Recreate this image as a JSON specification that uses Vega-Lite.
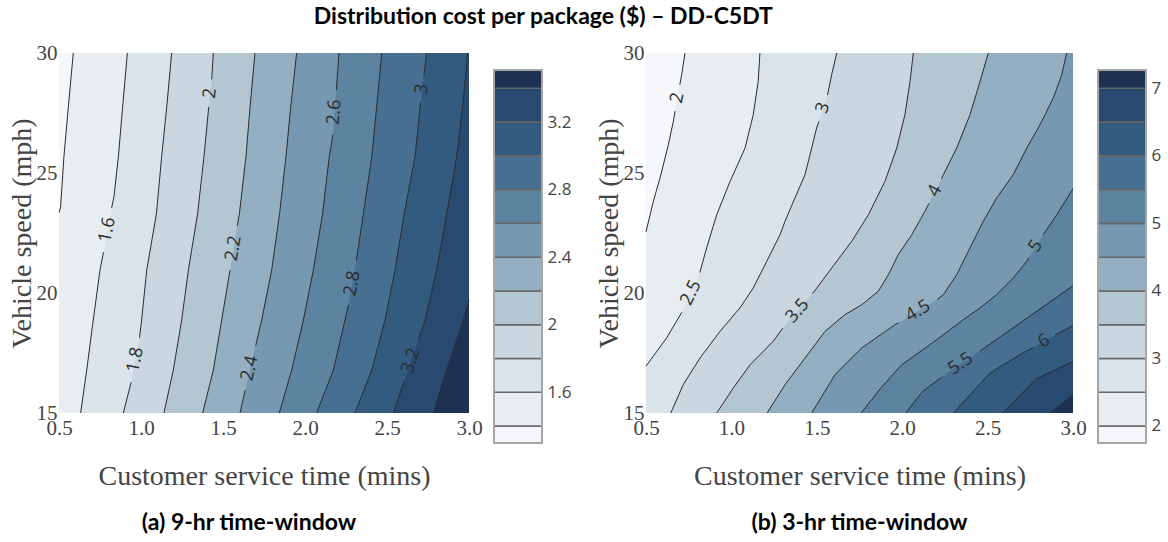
{
  "$schema": "https://vega.github.io/schema/vega-lite/v6.json",
  "background": "white",
  "padding": {"left": 8, "top": 6, "right": 4, "bottom": 4},
  "title": {"text": "Distribution cost per package ($) – DD-C5DT", "font": "Lato", "fontSize": 23, "fontWeight": "bold", "color": "#000000", "anchor": "middle", "frame": "bounds", "dx": -41, "offset": 13},
  "config": {
    "view": {"stroke": null},
    "axis": {"grid": false, "ticks": false, "domain": false, "labelFlush": false, "labelOverlap": false}
  },
  "datasets": {
    "ca": [
      {"lv": 1.4, "s": 1, "x": 0.587, "y": 30}, {"lv": 1.4, "s": 1, "x": 0.557, "y": 27.76}, {"lv": 1.4, "s": 1, "x": 0.53, "y": 25.68}, {"lv": 1.4, "s": 1, "x": 0.51, "y": 23.6}, {"lv": 1.4, "s": 1, "x": 0.5, "y": 23.35}, {"lv": 1.4, "s": 0, "x": 0.5, "y": 15},
      {"lv": 1.6, "s": 1, "x": 0.917, "y": 30}, {"lv": 1.6, "s": 1, "x": 0.888, "y": 27.76}, {"lv": 1.6, "s": 1, "x": 0.862, "y": 25.68}, {"lv": 1.6, "s": 1, "x": 0.835, "y": 24.01}, {"lv": 1.6, "s": 1, "x": 0.821, "y": 23.55},
      {"lv": 1.6, "s": 2, "x": 0.771, "y": 21.7}, {"lv": 1.6, "s": 2, "x": 0.75, "y": 20.96}, {"lv": 1.6, "s": 2, "x": 0.709, "y": 18.875}, {"lv": 1.6, "s": 2, "x": 0.669, "y": 16.79}, {"lv": 1.6, "s": 2, "x": 0.632, "y": 15},
      {"lv": 1.8, "s": 1, "x": 1.187, "y": 30}, {"lv": 1.8, "s": 1, "x": 1.157, "y": 27.76}, {"lv": 1.8, "s": 1, "x": 1.126, "y": 25.68}, {"lv": 1.8, "s": 1, "x": 1.094, "y": 23.3}, {"lv": 1.8, "s": 1, "x": 1.035, "y": 20.96}, {"lv": 1.8, "s": 1, "x": 1.004, "y": 18.875}, {"lv": 1.8, "s": 1, "x": 0.991, "y": 18.14},
      {"lv": 1.8, "s": 2, "x": 0.94, "y": 16.28}, {"lv": 1.8, "s": 2, "x": 0.892, "y": 15},
      {"lv": 2, "s": 1, "x": 1.441, "y": 30}, {"lv": 2, "s": 1, "x": 1.431, "y": 28.9},
      {"lv": 2, "s": 2, "x": 1.413, "y": 27.75}, {"lv": 2, "s": 2, "x": 1.384, "y": 25.68}, {"lv": 2, "s": 2, "x": 1.345, "y": 23.3}, {"lv": 2, "s": 2, "x": 1.289, "y": 20.96}, {"lv": 2, "s": 2, "x": 1.248, "y": 18.875}, {"lv": 2, "s": 2, "x": 1.197, "y": 16.79}, {"lv": 2, "s": 2, "x": 1.14, "y": 15},
      {"lv": 2.2, "s": 1, "x": 1.695, "y": 30}, {"lv": 2.2, "s": 1, "x": 1.665, "y": 27.76}, {"lv": 2.2, "s": 1, "x": 1.64, "y": 25.68}, {"lv": 2.2, "s": 1, "x": 1.6, "y": 23.3}, {"lv": 2.2, "s": 1, "x": 1.587, "y": 22.8},
      {"lv": 2.2, "s": 2, "x": 1.543, "y": 20.95}, {"lv": 2.2, "s": 2, "x": 1.492, "y": 18.875}, {"lv": 2.2, "s": 2, "x": 1.441, "y": 16.79}, {"lv": 2.2, "s": 2, "x": 1.376, "y": 15},
      {"lv": 2.4, "s": 1, "x": 1.949, "y": 30}, {"lv": 2.4, "s": 1, "x": 1.913, "y": 27.76}, {"lv": 2.4, "s": 1, "x": 1.884, "y": 25.68}, {"lv": 2.4, "s": 1, "x": 1.845, "y": 23.3}, {"lv": 2.4, "s": 1, "x": 1.797, "y": 20.96}, {"lv": 2.4, "s": 1, "x": 1.736, "y": 18.875}, {"lv": 2.4, "s": 1, "x": 1.699, "y": 17.8},
      {"lv": 2.4, "s": 2, "x": 1.635, "y": 15.95}, {"lv": 2.4, "s": 2, "x": 1.604, "y": 15},
      {"lv": 2.6, "s": 1, "x": 2.207, "y": 30}, {"lv": 2.6, "s": 1, "x": 2.191, "y": 28.45},
      {"lv": 2.6, "s": 2, "x": 2.17, "y": 26.6}, {"lv": 2.6, "s": 2, "x": 2.148, "y": 25.68}, {"lv": 2.6, "s": 2, "x": 2.107, "y": 23.3}, {"lv": 2.6, "s": 2, "x": 2.051, "y": 20.96}, {"lv": 2.6, "s": 2, "x": 1.99, "y": 18.875}, {"lv": 2.6, "s": 2, "x": 1.919, "y": 16.79}, {"lv": 2.6, "s": 2, "x": 1.843, "y": 15},
      {"lv": 2.8, "s": 1, "x": 2.468, "y": 30}, {"lv": 2.8, "s": 1, "x": 2.437, "y": 27.76}, {"lv": 2.8, "s": 1, "x": 2.407, "y": 25.68}, {"lv": 2.8, "s": 1, "x": 2.356, "y": 23.3}, {"lv": 2.8, "s": 1, "x": 2.313, "y": 21.35},
      {"lv": 2.8, "s": 2, "x": 2.265, "y": 19.5}, {"lv": 2.8, "s": 2, "x": 2.244, "y": 18.875}, {"lv": 2.8, "s": 2, "x": 2.173, "y": 16.79}, {"lv": 2.8, "s": 2, "x": 2.071, "y": 15},
      {"lv": 3, "s": 1, "x": 2.742, "y": 30}, {"lv": 3, "s": 1, "x": 2.725, "y": 29.05},
      {"lv": 3, "s": 2, "x": 2.705, "y": 27.95}, {"lv": 3, "s": 2, "x": 2.671, "y": 25.68}, {"lv": 3, "s": 2, "x": 2.605, "y": 23.3}, {"lv": 3, "s": 2, "x": 2.549, "y": 20.96}, {"lv": 3, "s": 2, "x": 2.488, "y": 18.875}, {"lv": 3, "s": 2, "x": 2.407, "y": 16.79}, {"lv": 3, "s": 2, "x": 2.305, "y": 15},
      {"lv": 3.2, "s": 1, "x": 2.992, "y": 30}, {"lv": 3.2, "s": 1, "x": 2.961, "y": 27.76}, {"lv": 3.2, "s": 1, "x": 2.925, "y": 25.68}, {"lv": 3.2, "s": 1, "x": 2.864, "y": 23.3}, {"lv": 3.2, "s": 1, "x": 2.803, "y": 20.96}, {"lv": 3.2, "s": 1, "x": 2.732, "y": 18.875}, {"lv": 3.2, "s": 1, "x": 2.69, "y": 18.02},
      {"lv": 3.2, "s": 2, "x": 2.605, "y": 16.32}, {"lv": 3.2, "s": 2, "x": 2.539, "y": 15},
      {"lv": 3.4, "s": 1, "x": 3, "y": 19.71}, {"lv": 3.4, "s": 1, "x": 2.965, "y": 18.875}, {"lv": 3.4, "s": 1, "x": 2.864, "y": 16.79}, {"lv": 3.4, "s": 1, "x": 2.783, "y": 15}
    ],
    "la": [
      {"t": "1.6", "x": 0.796, "y": 22.63}, {"t": "1.8", "x": 0.967, "y": 17.21}, {"t": "2", "x": 1.422, "y": 28.32},
      {"t": "2.2", "x": 1.565, "y": 21.86}, {"t": "2.4", "x": 1.665, "y": 16.86}, {"t": "2.6", "x": 2.181, "y": 27.53},
      {"t": "2.8", "x": 2.29, "y": 20.4}, {"t": "3", "x": 2.715, "y": 28.5}, {"t": "3.2", "x": 2.648, "y": 17.17}
    ],
    "cb": [
      {"lv": 2, "s": 1, "x": 0.728, "y": 30}, {"lv": 2, "s": 1, "x": 0.709, "y": 29.1}, {"lv": 2, "s": 1, "x": 0.698, "y": 28.68},
      {"lv": 2, "s": 2, "x": 0.67, "y": 27.58}, {"lv": 2, "s": 2, "x": 0.66, "y": 27.15}, {"lv": 2, "s": 2, "x": 0.631, "y": 26.18}, {"lv": 2, "s": 2, "x": 0.582, "y": 24.79}, {"lv": 2, "s": 2, "x": 0.543, "y": 23.82}, {"lv": 2, "s": 2, "x": 0.5, "y": 22.55}, {"lv": 2, "s": 0, "x": 0.5, "y": 15},
      {"lv": 2.5, "s": 1, "x": 1.167, "y": 30}, {"lv": 2.5, "s": 1, "x": 1.157, "y": 28.82}, {"lv": 2.5, "s": 1, "x": 1.128, "y": 27.43}, {"lv": 2.5, "s": 1, "x": 1.08, "y": 26.04}, {"lv": 2.5, "s": 1, "x": 0.992, "y": 24.65}, {"lv": 2.5, "s": 1, "x": 0.914, "y": 23.26}, {"lv": 2.5, "s": 1, "x": 0.855, "y": 21.88}, {"lv": 2.5, "s": 1, "x": 0.815, "y": 20.85},
      {"lv": 2.5, "s": 2, "x": 0.71, "y": 19.2}, {"lv": 2.5, "s": 2, "x": 0.621, "y": 18.13}, {"lv": 2.5, "s": 2, "x": 0.5, "y": 16.95}, {"lv": 2.5, "s": 0, "x": 0.5, "y": 15},
      {"lv": 3, "s": 1, "x": 1.617, "y": 30}, {"lv": 3, "s": 1, "x": 1.587, "y": 29.1}, {"lv": 3, "s": 1, "x": 1.563, "y": 28.25},
      {"lv": 3, "s": 2, "x": 1.513, "y": 27.15}, {"lv": 3, "s": 2, "x": 1.499, "y": 26.88}, {"lv": 3, "s": 2, "x": 1.47, "y": 26.04}, {"lv": 3, "s": 2, "x": 1.431, "y": 24.93}, {"lv": 3, "s": 2, "x": 1.372, "y": 23.96}, {"lv": 3, "s": 2, "x": 1.314, "y": 22.99}, {"lv": 3, "s": 2, "x": 1.285, "y": 22.43}, {"lv": 3, "s": 2, "x": 1.207, "y": 21.32}, {"lv": 3, "s": 2, "x": 1.128, "y": 20.21}, {"lv": 3, "s": 2, "x": 1.05, "y": 19.38}, {"lv": 3, "s": 2, "x": 0.933, "y": 18.4}, {"lv": 3, "s": 2, "x": 0.816, "y": 17.29}, {"lv": 3, "s": 2, "x": 0.718, "y": 16.18}, {"lv": 3, "s": 2, "x": 0.645, "y": 15},
      {"lv": 3.5, "s": 1, "x": 2.065, "y": 30}, {"lv": 3.5, "s": 1, "x": 2.046, "y": 28.82}, {"lv": 3.5, "s": 1, "x": 2.016, "y": 27.43}, {"lv": 3.5, "s": 1, "x": 1.968, "y": 26.04}, {"lv": 3.5, "s": 1, "x": 1.899, "y": 24.65}, {"lv": 3.5, "s": 1, "x": 1.802, "y": 23.26}, {"lv": 3.5, "s": 1, "x": 1.704, "y": 22.15}, {"lv": 3.5, "s": 1, "x": 1.587, "y": 21.04}, {"lv": 3.5, "s": 1, "x": 1.475, "y": 19.97},
      {"lv": 3.5, "s": 2, "x": 1.3, "y": 18.53}, {"lv": 3.5, "s": 2, "x": 1.245, "y": 17.99}, {"lv": 3.5, "s": 2, "x": 1.109, "y": 17.01}, {"lv": 3.5, "s": 2, "x": 1.011, "y": 16.04}, {"lv": 3.5, "s": 2, "x": 0.914, "y": 15},
      {"lv": 4, "s": 1, "x": 2.504, "y": 30}, {"lv": 4, "s": 1, "x": 2.456, "y": 28.82}, {"lv": 4, "s": 1, "x": 2.397, "y": 27.43}, {"lv": 4, "s": 1, "x": 2.319, "y": 26.04}, {"lv": 4, "s": 1, "x": 2.241, "y": 24.93}, {"lv": 4, "s": 1, "x": 2.229, "y": 24.76},
      {"lv": 4, "s": 2, "x": 2.157, "y": 23.74}, {"lv": 4, "s": 2, "x": 2.133, "y": 23.4}, {"lv": 4, "s": 2, "x": 2.056, "y": 22.43}, {"lv": 4, "s": 2, "x": 1.977, "y": 21.6}, {"lv": 4, "s": 2, "x": 1.919, "y": 20.76}, {"lv": 4, "s": 2, "x": 1.86, "y": 20.07}, {"lv": 4, "s": 2, "x": 1.763, "y": 19.51}, {"lv": 4, "s": 2, "x": 1.665, "y": 19.1}, {"lv": 4, "s": 2, "x": 1.548, "y": 18.4}, {"lv": 4, "s": 2, "x": 1.431, "y": 17.29}, {"lv": 4, "s": 2, "x": 1.314, "y": 16.18}, {"lv": 4, "s": 2, "x": 1.209, "y": 15},
      {"lv": 4.5, "s": 1, "x": 2.963, "y": 30}, {"lv": 4.5, "s": 1, "x": 2.934, "y": 29.1}, {"lv": 4.5, "s": 1, "x": 2.885, "y": 28.13}, {"lv": 4.5, "s": 1, "x": 2.807, "y": 27.01}, {"lv": 4.5, "s": 1, "x": 2.729, "y": 26.04}, {"lv": 4.5, "s": 1, "x": 2.65, "y": 24.93}, {"lv": 4.5, "s": 1, "x": 2.553, "y": 23.96}, {"lv": 4.5, "s": 1, "x": 2.475, "y": 22.99}, {"lv": 4.5, "s": 1, "x": 2.397, "y": 21.88}, {"lv": 4.5, "s": 1, "x": 2.319, "y": 20.76}, {"lv": 4.5, "s": 1, "x": 2.241, "y": 19.93}, {"lv": 4.5, "s": 1, "x": 2.205, "y": 19.73},
      {"lv": 4.5, "s": 2, "x": 1.98, "y": 18.76}, {"lv": 4.5, "s": 2, "x": 1.958, "y": 18.68}, {"lv": 4.5, "s": 2, "x": 1.763, "y": 17.71}, {"lv": 4.5, "s": 2, "x": 1.607, "y": 16.6}, {"lv": 4.5, "s": 2, "x": 1.47, "y": 15},
      {"lv": 5, "s": 1, "x": 3, "y": 24.35}, {"lv": 5, "s": 1, "x": 2.905, "y": 23.26}, {"lv": 5, "s": 1, "x": 2.825, "y": 22.42},
      {"lv": 5, "s": 2, "x": 2.743, "y": 21.48}, {"lv": 5, "s": 2, "x": 2.729, "y": 21.32}, {"lv": 5, "s": 2, "x": 2.651, "y": 20.63}, {"lv": 5, "s": 2, "x": 2.553, "y": 19.93}, {"lv": 5, "s": 2, "x": 2.456, "y": 19.38}, {"lv": 5, "s": 2, "x": 2.358, "y": 18.89}, {"lv": 5, "s": 2, "x": 2.241, "y": 18.26}, {"lv": 5, "s": 2, "x": 2.163, "y": 17.85}, {"lv": 5, "s": 2, "x": 1.997, "y": 17.01}, {"lv": 5, "s": 2, "x": 1.87, "y": 16}, {"lv": 5, "s": 2, "x": 1.76, "y": 15},
      {"lv": 5.5, "s": 1, "x": 3, "y": 20.3}, {"lv": 5.5, "s": 1, "x": 2.9, "y": 19.8}, {"lv": 5.5, "s": 1, "x": 2.75, "y": 19.05}, {"lv": 5.5, "s": 1, "x": 2.6, "y": 18.3}, {"lv": 5.5, "s": 1, "x": 2.455, "y": 17.58},
      {"lv": 5.5, "s": 2, "x": 2.232, "y": 16.5}, {"lv": 5.5, "s": 2, "x": 2.12, "y": 15.9}, {"lv": 5.5, "s": 2, "x": 2.02, "y": 15},
      {"lv": 6, "s": 1, "x": 3, "y": 18.65}, {"lv": 6, "s": 1, "x": 2.895, "y": 18.24},
      {"lv": 6, "s": 2, "x": 2.765, "y": 17.72}, {"lv": 6, "s": 2, "x": 2.707, "y": 17.5}, {"lv": 6, "s": 2, "x": 2.514, "y": 16.67}, {"lv": 6, "s": 2, "x": 2.3, "y": 15},
      {"lv": 6.5, "s": 1, "x": 3, "y": 17.15}, {"lv": 6.5, "s": 1, "x": 2.78, "y": 16.4}, {"lv": 6.5, "s": 1, "x": 2.59, "y": 15},
      {"lv": 7, "s": 1, "x": 3, "y": 15.76}, {"lv": 7, "s": 1, "x": 2.87, "y": 15}
    ],
    "lb": [
      {"t": "2", "x": 0.685, "y": 28.13}, {"t": "2.5", "x": 0.765, "y": 20.0}, {"t": "3", "x": 1.538, "y": 27.71},
      {"t": "3.5", "x": 1.388, "y": 19.25}, {"t": "4", "x": 2.193, "y": 24.25}, {"t": "4.5", "x": 2.093, "y": 19.24},
      {"t": "5", "x": 2.784, "y": 21.95}, {"t": "5.5", "x": 2.343, "y": 17.04}, {"t": "6", "x": 2.83, "y": 17.98}
    ],
    "bara": [
      {"lo": 1.2993, "hi": 1.4}, {"lo": 1.4, "hi": 1.6}, {"lo": 1.6, "hi": 1.8}, {"lo": 1.8, "hi": 2.0},
      {"lo": 2.0, "hi": 2.2}, {"lo": 2.2, "hi": 2.4}, {"lo": 2.4, "hi": 2.6}, {"lo": 2.6, "hi": 2.8},
      {"lo": 2.8, "hi": 3.0}, {"lo": 3.0, "hi": 3.2}, {"lo": 3.2, "hi": 3.4}, {"lo": 3.4, "hi": 3.508}
    ],
    "barb": [
      {"lo": 1.748, "hi": 2}, {"lo": 2, "hi": 2.5}, {"lo": 2.5, "hi": 3}, {"lo": 3, "hi": 3.5},
      {"lo": 3.5, "hi": 4}, {"lo": 4, "hi": 4.5}, {"lo": 4.5, "hi": 5}, {"lo": 5, "hi": 5.5},
      {"lo": 5.5, "hi": 6}, {"lo": 6, "hi": 6.5}, {"lo": 6.5, "hi": 7}, {"lo": 7, "hi": 7.271}
    ]
  },
  "bounds": "flush",
  "spacing": 25,
  "resolve": {"scale": {"x": "independent", "y": "independent", "color": "independent", "angle": "independent"}},
  "hconcat": [
    {
      "width": 410,
      "height": 360,
      "view": {"fill": "#f5f7fa", "stroke": null},
      "title": {"text": "(a) 9-hr time-window", "orient": "bottom", "anchor": "middle", "frame": "group", "font": "Lato", "fontSize": 23, "fontWeight": "bold", "color": "#000000", "offset": 22, "dx": -15},
      "encoding": {
        "x": {"field": "x", "type": "quantitative", "stack": null, "scale": {"domain": [0.5, 3], "nice": false, "zero": false},
          "axis": {"values": [0.5, 1, 1.5, 2, 2.5, 3], "format": ".1f", "title": "Customer service time (mins)", "labelFont": "Liberation Serif", "labelFontSize": 21, "labelColor": "#444444", "labelPadding": 4, "titleFont": "Liberation Serif", "titleFontSize": 28, "titleFontWeight": "normal", "titleColor": "#444444", "titlePadding": 24}},
        "y": {"field": "y", "type": "quantitative", "scale": {"domain": [15, 30], "nice": false, "zero": false},
          "axis": {"values": [15, 20, 25, 30], "title": "Vehicle speed (mph)", "labelFont": "Liberation Serif", "labelFontSize": 21, "labelColor": "#444444", "labelPadding": 2, "titleFont": "Liberation Serif", "titleFontSize": 28, "titleFontWeight": "normal", "titleColor": "#444444", "titlePadding": 0}}
      },
      "layer": [
        {
          "data": {"name": "ca"},
          "mark": {"type": "area", "orient": "horizontal"},
          "encoding": {
            "x2": {"datum": 3},
            "detail": {"field": "lv", "type": "nominal"},
            "color": {"field": "lv", "type": "quantitative", "legend": null,
              "scale": {"type": "threshold", "domain": [1.4, 1.6, 1.8, 2, 2.2, 2.4, 2.6, 2.8, 3, 3.2, 3.4],
                "range": ["#f5f7fa", "#e8edf2", "#dbe3ea", "#cad7e0", "#b3c6d2", "#95afc2", "#7698b0", "#5c84a1", "#466f92", "#335b80", "#284a70", "#1f3152"]}}
          }
        },
        {
          "data": {"name": "ca"},
          "transform": [{"filter": "datum.s > 0"}],
          "mark": {"type": "line", "color": "#2b2b2b", "strokeWidth": 1},
          "encoding": {
            "detail": [{"field": "lv", "type": "nominal"}, {"field": "s", "type": "nominal"}],
            "order": {"field": "y", "type": "quantitative"}
          }
        },
        {
          "data": {"name": "la"},
          "mark": {"type": "text", "font": "Open Sans", "fontSize": 18, "color": "#2b2b2b", "align": "center", "baseline": "middle"},
          "encoding": {
            "text": {"field": "t", "type": "nominal"},
            "angle": {"field": "t", "type": "nominal", "legend": null,
              "scale": {"type": "ordinal", "domain": ["1.6", "1.8", "2", "2.2", "2.4", "2.6", "2.8", "3", "3.2"], "range": [-79, -79, -84, -80, -77, -85, -80, -83, -71]}}
          }
        }
      ]
    },
    {
      "width": 127,
      "height": 390,
      "data": {"name": "bara"},
      "encoding": {
        "x": {"datum": 0, "type": "quantitative", "scale": {"domain": [0, 2.6458], "nice": false, "zero": false}, "axis": null},
        "x2": {"datum": 1},
        "y": {"field": "lo", "type": "quantitative", "scale": {"domain": [1.2993, 3.609], "nice": false, "zero": false},
          "axis": {"orient": "right", "offset": -79, "values": [1.6, 2, 2.4, 2.8, 3.2], "format": "~g", "title": null, "labelFont": "Open Sans", "labelFontSize": 17, "labelColor": "#444444", "labelPadding": 5}},
        "y2": {"field": "hi"}
      },
      "layer": [
        {
          "mark": {"type": "rect", "stroke": "#666666", "strokeWidth": 1.5},
          "encoding": {
            "color": {"field": "lo", "type": "quantitative", "legend": null,
              "scale": {"type": "threshold", "domain": [1.4, 1.6, 1.8, 2, 2.2, 2.4, 2.6, 2.8, 3, 3.2, 3.4],
                "range": ["#f5f7fa", "#e8edf2", "#dbe3ea", "#cad7e0", "#b3c6d2", "#95afc2", "#7698b0", "#5c84a1", "#466f92", "#335b80", "#284a70", "#1f3152"]}}
          }
        },
        {
          "transform": [{"aggregate": [{"op": "min", "field": "lo", "as": "lo"}, {"op": "max", "field": "hi", "as": "hi"}]}],
          "mark": {"type": "rect", "fillOpacity": 0, "stroke": "#a6a6a6", "strokeWidth": 2}
        }
      ]
    },
    {
      "width": 427,
      "height": 360,
      "view": {"fill": "#f5f7fa", "stroke": null},
      "title": {"text": "(b) 3-hr time-window", "orient": "bottom", "anchor": "middle", "frame": "group", "font": "Lato", "fontSize": 23, "fontWeight": "bold", "color": "#000000", "offset": 22},
      "encoding": {
        "x": {"field": "x", "type": "quantitative", "stack": null, "scale": {"domain": [0.5, 3], "nice": false, "zero": false},
          "axis": {"values": [0.5, 1, 1.5, 2, 2.5, 3], "format": ".1f", "title": "Customer service time (mins)", "labelFont": "Liberation Serif", "labelFontSize": 21, "labelColor": "#444444", "labelPadding": 4, "titleFont": "Liberation Serif", "titleFontSize": 28, "titleFontWeight": "normal", "titleColor": "#444444", "titlePadding": 24}},
        "y": {"field": "y", "type": "quantitative", "scale": {"domain": [15, 30], "nice": false, "zero": false},
          "axis": {"values": [15, 20, 25, 30], "title": "Vehicle speed (mph)", "labelFont": "Liberation Serif", "labelFontSize": 21, "labelColor": "#444444", "labelPadding": 2, "titleFont": "Liberation Serif", "titleFontSize": 28, "titleFontWeight": "normal", "titleColor": "#444444", "titlePadding": 0}}
      },
      "layer": [
        {
          "data": {"name": "cb"},
          "mark": {"type": "area", "orient": "horizontal"},
          "encoding": {
            "x2": {"datum": 3},
            "detail": {"field": "lv", "type": "nominal"},
            "color": {"field": "lv", "type": "quantitative", "legend": null,
              "scale": {"type": "threshold", "domain": [2, 2.5, 3, 3.5, 4, 4.5, 5, 5.5, 6, 6.5, 7],
                "range": ["#f5f7fa", "#e8edf2", "#dbe3ea", "#cad7e0", "#b3c6d2", "#95afc2", "#7698b0", "#5c84a1", "#466f92", "#335b80", "#284a70", "#1f3152"]}}
          }
        },
        {
          "data": {"name": "cb"},
          "transform": [{"filter": "datum.s > 0"}],
          "mark": {"type": "line", "color": "#2b2b2b", "strokeWidth": 1},
          "encoding": {
            "detail": [{"field": "lv", "type": "nominal"}, {"field": "s", "type": "nominal"}],
            "order": {"field": "y", "type": "quantitative"}
          }
        },
        {
          "data": {"name": "lb"},
          "mark": {"type": "text", "font": "Open Sans", "fontSize": 18, "color": "#2b2b2b", "align": "center", "baseline": "middle"},
          "encoding": {
            "text": {"field": "t", "type": "nominal"},
            "angle": {"field": "t", "type": "nominal", "legend": null,
              "scale": {"type": "ordinal", "domain": ["2", "2.5", "3", "3.5", "4", "4.5", "5", "5.5", "6"], "range": [-78, -64, -71, -49, -63, -31, -58, -34, -29]}}
          }
        }
      ]
    },
    {
      "width": 48,
      "height": 390,
      "data": {"name": "barb"},
      "encoding": {
        "x": {"datum": 0, "type": "quantitative", "scale": {"domain": [0, 1], "nice": false, "zero": false}, "axis": null},
        "x2": {"datum": 1},
        "y": {"field": "lo", "type": "quantitative", "scale": {"domain": [1.748, 7.523], "nice": false, "zero": false},
          "axis": {"orient": "right", "values": [2, 3, 4, 5, 6, 7], "format": "~g", "title": null, "labelFont": "Open Sans", "labelFontSize": 17, "labelColor": "#444444", "labelPadding": 5}},
        "y2": {"field": "hi"}
      },
      "layer": [
        {
          "mark": {"type": "rect", "stroke": "#666666", "strokeWidth": 1.5},
          "encoding": {
            "color": {"field": "lo", "type": "quantitative", "legend": null,
              "scale": {"type": "threshold", "domain": [2, 2.5, 3, 3.5, 4, 4.5, 5, 5.5, 6, 6.5, 7],
                "range": ["#f5f7fa", "#e8edf2", "#dbe3ea", "#cad7e0", "#b3c6d2", "#95afc2", "#7698b0", "#5c84a1", "#466f92", "#335b80", "#284a70", "#1f3152"]}}
          }
        },
        {
          "transform": [{"aggregate": [{"op": "min", "field": "lo", "as": "lo"}, {"op": "max", "field": "hi", "as": "hi"}]}],
          "mark": {"type": "rect", "fillOpacity": 0, "stroke": "#a6a6a6", "strokeWidth": 2}
        }
      ]
    }
  ]
}
